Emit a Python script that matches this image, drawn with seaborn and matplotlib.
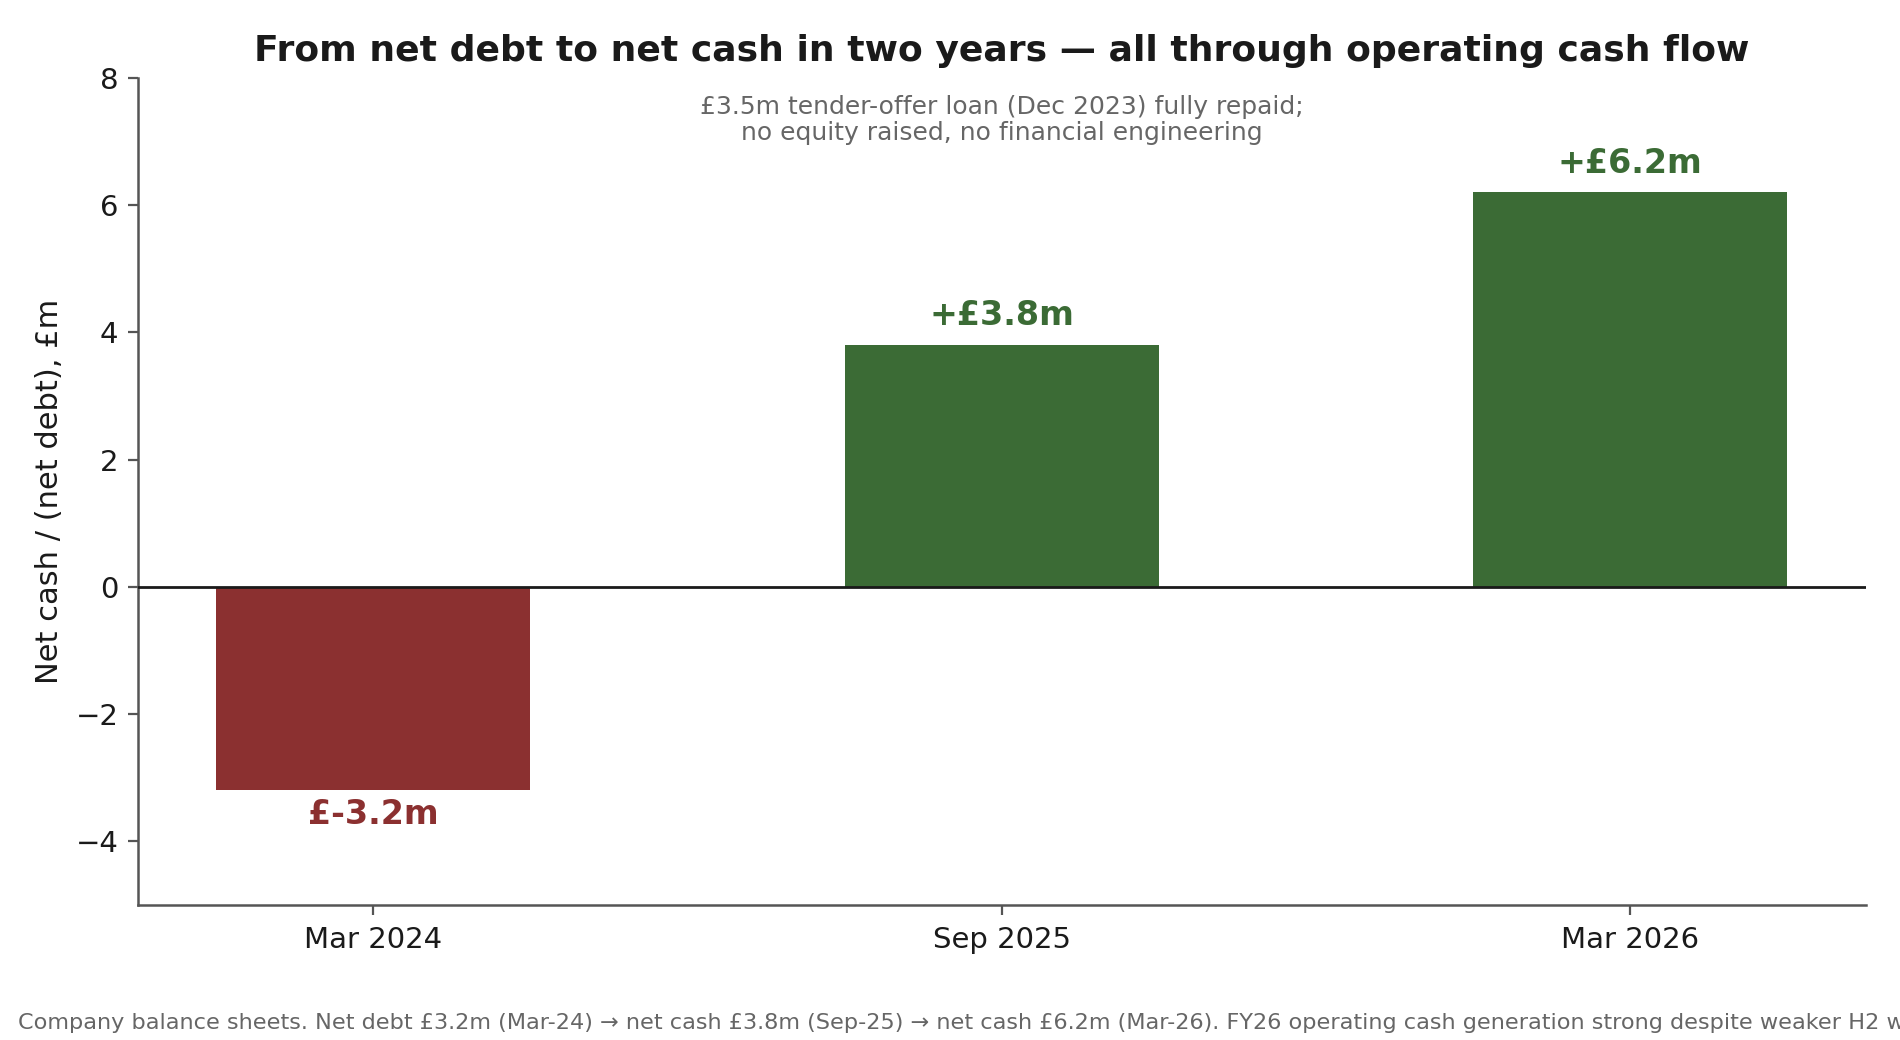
import matplotlib
matplotlib.use("Agg")
import matplotlib.pyplot as plt
import seaborn as sns
import pandas as pd

periods = ["Mar 2024", "Sep 2025", "Mar 2026"]
net_cash = [-3.2, 3.8, 6.2]
bar_labels = ["£-3.2m", "+£3.8m", "+£6.2m"]

RED = "#8b3030"
GREEN = "#3b6b35"
colors = [RED if v < 0 else GREEN for v in net_cash]

df = pd.DataFrame({"period": periods, "net_cash": net_cash})

sns.set_style("ticks")
plt.rcParams['font.family'] = ['DejaVu Sans']

fig, ax = plt.subplots(figsize=(9.5, 5.2), dpi=200)
fig.subplots_adjust(left=0.0725, right=0.982, top=0.925, bottom=0.13)

sns.barplot(data=df, x="period", y="net_cash", hue="period",
            palette=colors, width=0.5, legend=False, ax=ax,
            saturation=1, linewidth=0)

ax.axhline(0, color="#1a1a1a", linewidth=1.0, zorder=3)

for i, (v, lab, c) in enumerate(zip(net_cash, bar_labels, colors)):
    if v >= 0:
        ax.text(i, v + 0.2, lab, ha="center", va="bottom",
                fontsize=12, fontweight="bold", color=c)
    else:
        ax.text(i, v - 0.12, lab, ha="center", va="top",
                fontsize=12, fontweight="bold", color=c)

ax.set_xlim(-0.375, len(periods) - 1 + 0.375)
ax.set_ylim(-5, 8)
ax.set_yticks([-4, -2, 0, 2, 4, 6, 8])
ax.set_xlabel("")
ax.set_ylabel("Net cash / (net debt), £m", fontsize=11, color="#1a1a1a")
ax.tick_params(axis="both", labelsize=10.5, colors="#1a1a1a")
ax.tick_params(axis="x", pad=4)

sns.despine(ax=ax)
for side in ["left", "bottom"]:
    ax.spines[side].set_color("#555555")
    ax.spines[side].set_linewidth(0.9)
ax.tick_params(axis="both", color="#555555")

ax.set_title("From net debt to net cash in two years — all through operating cash flow",
             fontsize=13, fontweight="bold", color="#1a1a1a", pad=6)

ax.text(0.5, 0.949,
        "£3.5m tender-offer loan (Dec 2023) fully repaid;\nno equity raised, no financial engineering",
        transform=ax.transAxes, ha="center", va="center",
        fontsize=9, color="#666666", linespacing=1.1)

fig.text(0.0095, 0.0163,
         "Company balance sheets. Net debt £3.2m (Mar-24) → net cash £3.8m (Sep-25) → "
         "net cash £6.2m (Mar-26). FY26 operating cash generation strong despite weaker H2 working capital.",
         ha="left", va="center", fontsize=8.05, color="#666666")

fig.savefig("out.png", dpi=200)
